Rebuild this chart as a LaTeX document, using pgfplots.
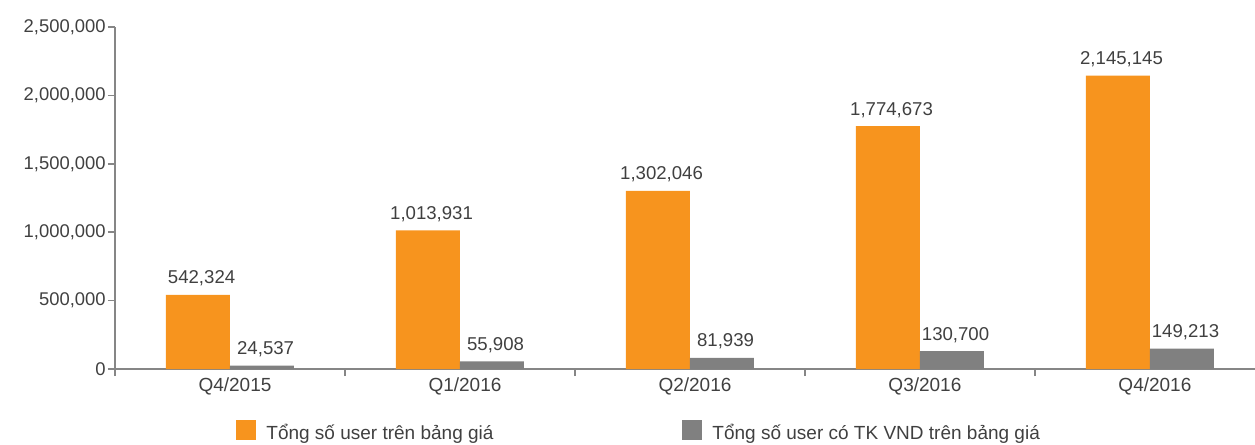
\documentclass[border=0pt]{standalone}
\usepackage{fontspec}
\setmainfont{Liberation Sans}
\usepackage{pgfplots}
\pgfplotsset{compat=1.18}

\definecolor{barorange}{RGB}{247,148,30}
\definecolor{bargray}{RGB}{128,128,128}
\definecolor{axisgray}{RGB}{134,134,134}
\definecolor{txtgray}{RGB}{64,64,64}

\begin{document}
\fontsize{9.2}{11}\selectfont
\begin{tikzpicture}
\begin{axis}[
    scale only axis,
    width=570pt, height=171pt,
    xmin=-0.5, xmax=4.457,
    ymin=0, ymax=2500000,
    axis x line*=bottom, axis y line*=left,
    axis line style={axisgray, line width=0.8pt, -},
    tick style={axisgray, line width=0.8pt},
    tick align=outside,
    major tick length=3.5pt,
    xtick={-0.5,0.5,1.5,2.5,3.5},
    xticklabels={},
    extra x ticks={0,1,2,3,4},
    extra x tick labels={Q4/2015,Q1/2016,Q2/2016,Q3/2016,Q4/2016},
    extra x tick style={major tick length=0pt,
        tick label style={font=\fontsize{9.5}{11}\selectfont, xshift=2.5pt, yshift=-1pt}},
    ytick={0,500000,1000000,1500000,2000000,2500000},
    scaled y ticks=false,
    /pgf/number format/fixed,
    /pgf/number format/1000 sep={,},
    /pgf/number format/assume math mode=true,
    tick label style={text=txtgray, font=\fontsize{9.2}{11}\selectfont},
    yticklabel style={inner sep=1pt},
    ybar,
    bar width=32pt,
    point meta=explicit symbolic,
    nodes near coords,
    nodes near coords style={text=txtgray, font=\fontsize{9.3}{11}\selectfont,
        xshift=1.8pt, yshift=1pt},
    legend columns=2,
    legend style={draw=none, fill=none, at={(0,0)}, anchor=north west,
        xshift=60.5pt, yshift=-25.3pt, inner sep=0pt,
        font=\fontsize{9.5}{11}\selectfont, text=txtgray,
        /tikz/column 2/.style={column sep=92.5pt}},
]
\addplot[fill=barorange, draw=none, bar shift=-16pt,
    legend image code/.code={\fill[barorange] (0pt,-3.25pt) rectangle (10pt,6.75pt);
        \path (13pt,0pt);}]
    coordinates {(0,542324) [542,324] (1,1013931) [1,013,931] (2,1302046) [1,302,046]
                 (3,1774673) [1,774,673] (4,2145145) [2,145,145]};
\addlegendentry{Tổng số user trên bảng giá}
\addplot[fill=bargray, draw=none, bar shift=16pt,
    legend image code/.code={\fill[bargray] (0pt,-3.25pt) rectangle (10pt,6.75pt);
        \path (13pt,0pt);}]
    coordinates {(0,24537) [24,537] (1,55908) [55,908] (2,81939) [81,939]
                 (3,130700) [130,700] (4,149213) [149,213]};
\addlegendentry{Tổng số user có TK VND trên bảng giá}
\end{axis}
\pgfresetboundingbox
\path ([xshift=-57.5pt,yshift=-37.5pt]current axis.south west) rectangle ([yshift=13.5pt]current axis.north east);
\end{tikzpicture}
\end{document}
